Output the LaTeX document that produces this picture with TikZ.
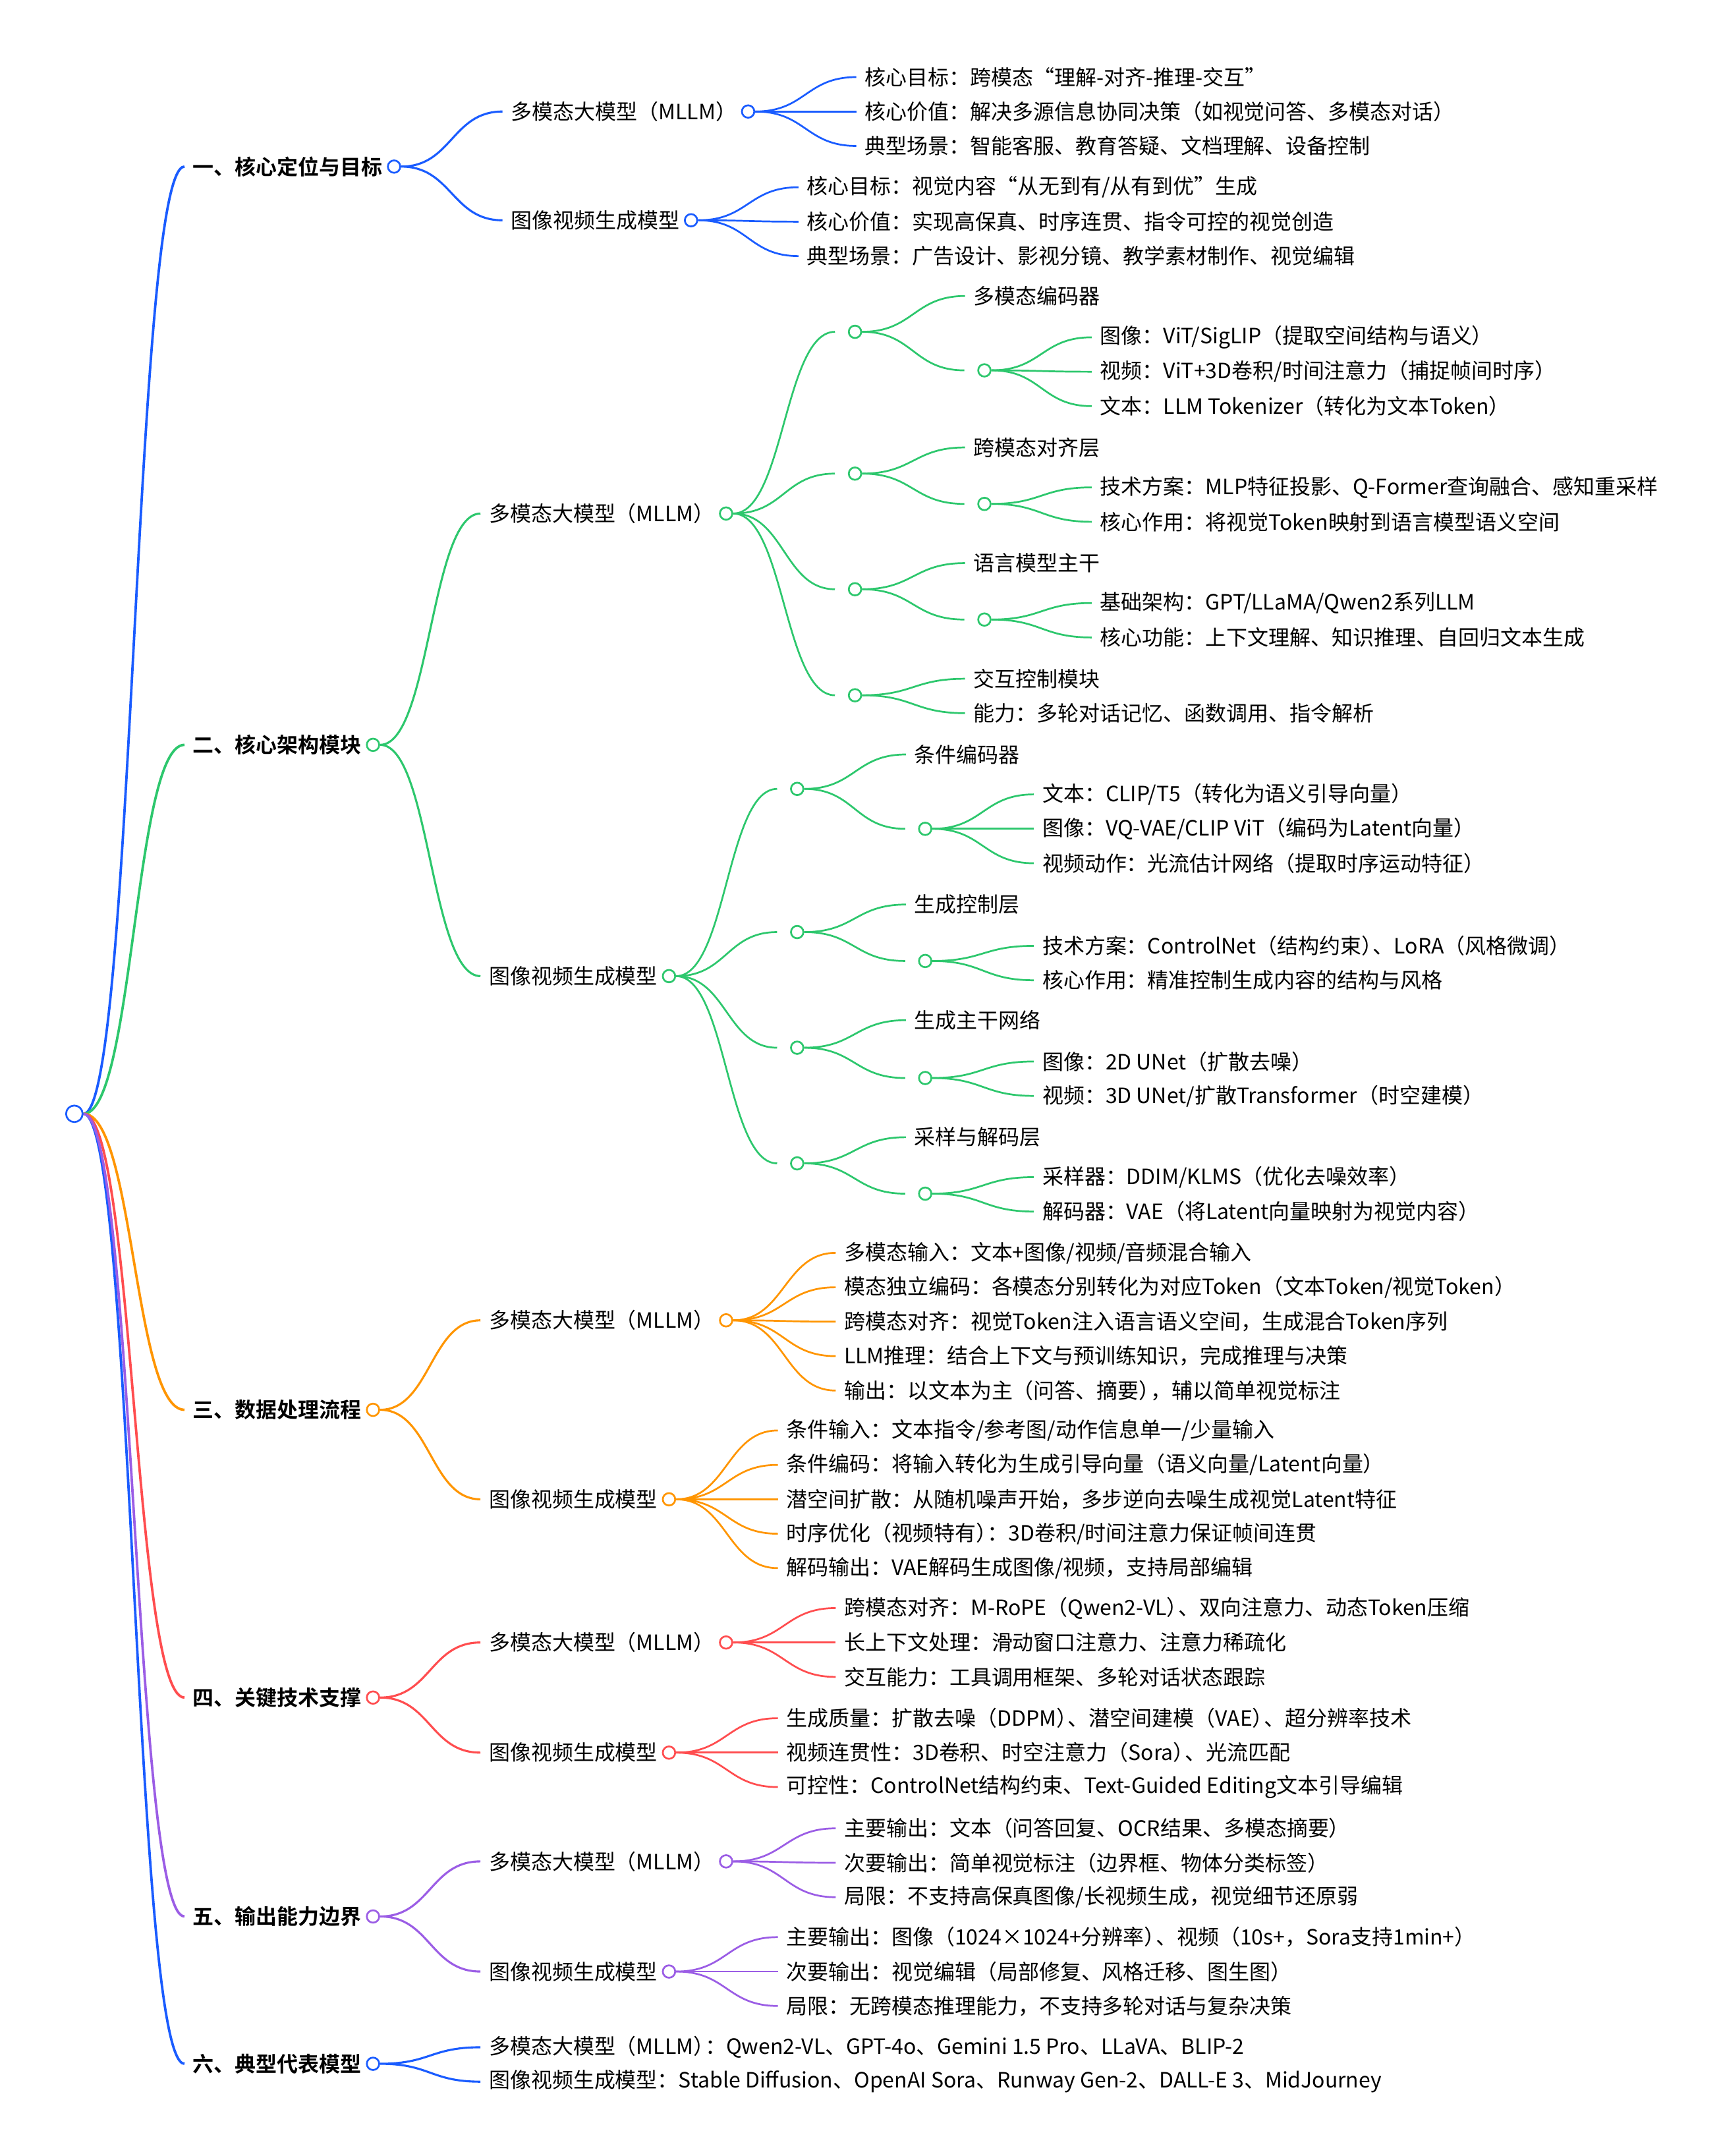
\documentclass[tikz,border=0pt]{standalone}
\usepackage{fontspec}
\setmainfont{Noto Sans CJK SC}[BoldFont={Noto Sans CJK SC Bold}]
\usetikzlibrary{positioning,calc,backgrounds}

\definecolor{mblue}{HTML}{1A5CFF}
\definecolor{mgreen}{HTML}{2DC76D}
\definecolor{morange}{HTML}{FF9500}
\definecolor{mred}{HTML}{FF4D4F}
\definecolor{mpurple}{HTML}{9B5DE5}
\newcommand{\jt}{\kern-0.45em}

\tikzset{
txt/.style={anchor=west, inner xsep=6pt, inner ysep=2pt, font=\fontsize{15.3}{18}\selectfont},
sect/.style={txt, font=\fontsize{15.3}{18}\selectfont\bfseries},
dot/.style={circle, draw=#1, fill=white, line width=1.3pt, minimum size=9pt, inner sep=0pt},
link/.style={to path={.. controls ($(\tikztostart)!0.5!(\tikztotarget|-\tikztostart)$) and ($(\tikztotarget)!0.5!(\tikztostart|-\tikztotarget)$) .. (\tikztotarget)}}
}

\begin{document}
\begin{tikzpicture}[x=1pt, y=-1pt, node distance=-3pt]
\useasboundingbox (0,0) rectangle (1250,1566);
\node[dot=mblue, minimum size=12pt] (r) at (54,809) {};

% sections
\node[sect] (s1) at (134,121) {一、核心定位与目标};
\node[dot=mblue, right=of s1] (s1d) {};
\node[sect] (s2) at (134,541) {二、核心架构模块};
\node[dot=mgreen, right=of s2] (s2d) {};
\node[sect] (s3) at (134,1024) {三、数据处理流程};
\node[dot=morange, right=of s3] (s3d) {};
\node[sect] (s4) at (134,1233) {四、关键技术支撑};
\node[dot=mred, right=of s4] (s4d) {};
\node[sect] (s5) at (134,1392) {五、输出能力边界};
\node[dot=mpurple, right=of s5] (s5d) {};
\node[sect] (s6) at (134,1499) {六、典型代表模型};
\node[dot=mblue, right=of s6] (s6d) {};

% 一
\node[txt] (s1a) at (365,81) {多模态大模型（MLLM）};
\node[dot=mblue, right=of s1a] (s1ad) {};
\node[txt] (s1a1) at (622,56) {核心目标：跨模态“理解-对齐-推理-交互”};
\node[txt] (s1a2) at (622,81) {核心价值：解决多源信息协同决策（如视觉问答、多模态对话）};
\node[txt] (s1a3) at (622,106) {典型场景：智能客服、教育答疑、文档理解、设备控制};
\node[txt] (s1b) at (365,160) {图像视频生成模型};
\node[dot=mblue, right=of s1b] (s1bd) {};
\node[txt] (s1b1) at (580,136) {核心目标：视觉内容“从无到有/从有到优”生成};
\node[txt] (s1b2) at (580,161) {核心价值：实现高保真、时序连贯、指令可控的视觉创造};
\node[txt] (s1b3) at (580,186) {典型场景：广告设计、影视分镜、教学素材制作、视觉编辑};

% 二 MLLM
\node[txt] (s2a) at (349,373) {多模态大模型（MLLM）};
\node[dot=mgreen, right=of s2a] (s2ad) {};
\node[txt] (s2a1) at (606.5,241) {};
\node[dot=mgreen, right=of s2a1] (s2a1d) {};
\node[txt] (s2a1x) at (701,215) {多模态编码器};
\node[txt] (s2a1y) at (700.5,269) {};
\node[dot=mgreen, right=of s2a1y] (s2a1yd) {};
\node[txt] (s2a1y1) at (793,245) {图像：ViT/SigLIP（提取空间结构与语义）};
\node[txt] (s2a1y2) at (793,270) {视频：ViT+3D卷积/时间注意力（捕捉帧间时序）};
\node[txt] (s2a1y3) at (793,295) {文本：LLM Tokenizer（转化为文本Token）};
\node[txt] (s2a2) at (606.5,344) {};
\node[dot=mgreen, right=of s2a2] (s2a2d) {};
\node[txt] (s2a2x) at (701,325) {跨模态对齐层};
\node[txt] (s2a2y) at (700.5,366) {};
\node[dot=mgreen, right=of s2a2y] (s2a2yd) {};
\node[txt] (s2a2y1) at (793,354) {技术方案：MLP特征投影、Q-Former查询融合、感知重采样};
\node[txt] (s2a2y2) at (793,379) {核心作用：将视觉Token映射到语言模型语义空间};
\node[txt] (s2a3) at (606.5,428) {};
\node[dot=mgreen, right=of s2a3] (s2a3d) {};
\node[txt] (s2a3x) at (701,409) {语言模型主干};
\node[txt] (s2a3y) at (700.5,450) {};
\node[dot=mgreen, right=of s2a3y] (s2a3yd) {};
\node[txt] (s2a3y1) at (793,438) {基础架构：GPT/LLaMA/Qwen2系列LLM};
\node[txt] (s2a3y2) at (793,463) {核心功能：上下文理解、知识推理、自回归文本生成};
\node[txt] (s2a4) at (606.5,505) {};
\node[dot=mgreen, right=of s2a4] (s2a4d) {};
\node[txt] (s2a4x) at (701,493) {交互控制模块};
\node[txt] (s2a4z) at (701,518) {能力：多轮对话记忆、函数调用、指令解析};

% 二 生成
\node[txt] (s2b) at (349,709) {图像视频生成模型};
\node[dot=mgreen, right=of s2b] (s2bd) {};
\node[txt] (s2b1) at (564.5,573) {};
\node[dot=mgreen, right=of s2b1] (s2b1d) {};
\node[txt] (s2b1x) at (658,548) {条件编码器};
\node[txt] (s2b1y) at (657.5,602) {};
\node[dot=mgreen, right=of s2b1y] (s2b1yd) {};
\node[txt] (s2b1y1) at (751,577) {文本：CLIP/T5（转化为语义引导向量）};
\node[txt] (s2b1y2) at (751,602) {图像：VQ-VAE/CLIP ViT（编码为Latent向量）};
\node[txt] (s2b1y3) at (751,627) {视频动作：光流估计网络（提取时序运动特征）};
\node[txt] (s2b2) at (564.5,677) {};
\node[dot=mgreen, right=of s2b2] (s2b2d) {};
\node[txt] (s2b2x) at (658,657) {生成控制层};
\node[txt] (s2b2y) at (657.5,698) {};
\node[dot=mgreen, right=of s2b2y] (s2b2yd) {};
\node[txt] (s2b2y1) at (751,687) {技术方案：ControlNet（结构约束）\jt、LoRA（风格微调）};
\node[txt] (s2b2y2) at (751,712) {核心作用：精准控制生成内容的结构与风格};
\node[txt] (s2b3) at (564.5,761) {};
\node[dot=mgreen, right=of s2b3] (s2b3d) {};
\node[txt] (s2b3x) at (658,741) {生成主干网络};
\node[txt] (s2b3y) at (657.5,783) {};
\node[dot=mgreen, right=of s2b3y] (s2b3yd) {};
\node[txt] (s2b3y1) at (751,771) {图像：2D UNet（扩散去噪）};
\node[txt] (s2b3y2) at (751,796) {视频：3D UNet/扩散Transformer（时空建模）};
\node[txt] (s2b4) at (564.5,845) {};
\node[dot=mgreen, right=of s2b4] (s2b4d) {};
\node[txt] (s2b4x) at (658,826) {采样与解码层};
\node[txt] (s2b4y) at (657.5,867) {};
\node[dot=mgreen, right=of s2b4y] (s2b4yd) {};
\node[txt] (s2b4y1) at (751,855) {采样器：DDIM/KLMS（优化去噪效率）};
\node[txt] (s2b4y2) at (751,880) {解码器：VAE（将Latent向量映射为视觉内容）};

% 三
\node[txt] (s3a) at (349,959) {多模态大模型（MLLM）};
\node[dot=morange, right=of s3a] (s3ad) {};
\node[txt] (s3a1) at (607,910) {多模态输入：文本+图像/视频/音频混合输入};
\node[txt] (s3a2) at (607,935) {模态独立编码：各模态分别转化为对应Token（文本Token/视觉Token）};
\node[txt] (s3a3) at (607,960) {跨模态对齐：视觉Token注入语言语义空间，生成混合Token序列};
\node[txt] (s3a4) at (607,985) {LLM推理：结合上下文与预训练知识，完成推理与决策};
\node[txt] (s3a5) at (607,1010) {输出：以文本为主（问答、摘要）\jt，辅以简单视觉标注};
\node[txt] (s3b) at (349,1089) {图像视频生成模型};
\node[dot=morange, right=of s3b] (s3bd) {};
\node[txt] (s3b1) at (565,1039) {条件输入：文本指令/参考图/动作信息单一/少量输入};
\node[txt] (s3b2) at (565,1064) {条件编码：将输入转化为生成引导向量（语义向量/Latent向量）};
\node[txt] (s3b3) at (565,1089) {潜空间扩散：从随机噪声开始，多步逆向去噪生成视觉Latent特征};
\node[txt] (s3b4) at (565,1114) {时序优化（视频特有）\jt：3D卷积/时间注意力保证帧间连贯};
\node[txt] (s3b5) at (565,1139) {解码输出：VAE解码生成图像/视频，支持局部编辑};

% 四
\node[txt] (s4a) at (349,1193) {多模态大模型（MLLM）};
\node[dot=mred, right=of s4a] (s4ad) {};
\node[txt] (s4a1) at (607,1168) {跨模态对齐：M-RoPE（Qwen2-VL）\jt、双向注意力、动态Token压缩};
\node[txt] (s4a2) at (607,1193) {长上下文处理：滑动窗口注意力、注意力稀疏化};
\node[txt] (s4a3) at (607,1218) {交互能力：工具调用框架、多轮对话状态跟踪};
\node[txt] (s4b) at (349,1273) {图像视频生成模型};
\node[dot=mred, right=of s4b] (s4bd) {};
\node[txt] (s4b1) at (565,1248) {生成质量：扩散去噪（DDPM）\jt、潜空间建模（VAE）\jt、超分辨率技术};
\node[txt] (s4b2) at (565,1273) {视频连贯性：3D卷积、时空注意力（Sora）\jt、光流匹配};
\node[txt] (s4b3) at (565,1298) {可控性：ControlNet结构约束、Text-Guided Editing文本引导编辑};

% 五
\node[txt] (s5a) at (349,1352) {多模态大模型（MLLM）};
\node[dot=mpurple, right=of s5a] (s5ad) {};
\node[txt] (s5a1) at (607,1328) {主要输出：文本（问答回复、OCR结果、多模态摘要）};
\node[txt] (s5a2) at (607,1353) {次要输出：简单视觉标注（边界框、物体分类标签）};
\node[txt] (s5a3) at (607,1378) {局限：不支持高保真图像/长视频生成，视觉细节还原弱};
\node[txt] (s5b) at (349,1432) {图像视频生成模型};
\node[dot=mpurple, right=of s5b] (s5bd) {};
\node[txt] (s5b1) at (565,1407) {主要输出：图像（1024×1024+分辨率）\jt、视频（10s+，Sora支持1min+）};
\node[txt] (s5b2) at (565,1432) {次要输出：视觉编辑（局部修复、风格迁移、图生图）};
\node[txt] (s5b3) at (565,1457) {局限：无跨模态推理能力，不支持多轮对话与复杂决策};

% 六
\node[txt] (s6a) at (349,1487) {多模态大模型（MLLM）\jt：Qwen2-VL、GPT-4o、Gemini 1.5 Pro、LLaVA、BLIP-2};
\node[txt] (s6b) at (349,1512) {图像视频生成模型：Stable Diffusion、OpenAI Sora、Runway Gen-2、DALL-E 3、MidJourney};

% links
\begin{scope}[on background layer]
\draw[line width=1.8pt, mblue] (r.east) to[link] (s1.west) (r.east) to[link] (s6.west);
\draw[line width=1.8pt, mgreen] (r.east) to[link] (s2.west);
\draw[line width=1.8pt, morange] (r.east) to[link] (s3.west);
\draw[line width=1.8pt, mred] (r.east) to[link] (s4.west);
\draw[line width=1.8pt, mpurple] (r.east) to[link] (s5.west);

\begin{scope}[mblue, line width=1.5pt]
\draw (s1d.east) to[link] (s1a.west) (s1d.east) to[link] (s1b.west);
\draw (s6d.east) to[link] (s6a.west) (s6d.east) to[link] (s6b.west);
\foreach \i in {1,2,3} {
  \draw[line width=1.3pt] (s1ad.east) to[link] (s1a\i.west);
  \draw[line width=1.3pt] (s1bd.east) to[link] (s1b\i.west);
}
\end{scope}

\begin{scope}[mgreen, line width=1.3pt]
\draw[line width=1.5pt] (s2d.east) to[link] (s2a.west) (s2d.east) to[link] (s2b.west);
\foreach \g in {a,b} {
  \foreach \i in {1,2,3,4} {
    \draw (s2\g d.east) to[link] (s2\g\i.west);
    \draw (s2\g\i d.east) to[link] (s2\g\i x.west);
  }
  \foreach \i in {1,2,3} {
    \draw (s2\g\i d.east) to[link] (s2\g\i y.west);
    \draw (s2\g\i yd.east) to[link] (s2\g\i y1.west);
    \draw (s2\g\i yd.east) to[link] (s2\g\i y2.west);
  }
  \draw (s2\g1yd.east) to[link] (s2\g1y3.west);
}
\draw (s2b4d.east) to[link] (s2b4y.west);
\draw (s2b4yd.east) to[link] (s2b4y1.west) (s2b4yd.east) to[link] (s2b4y2.west);
\draw (s2a4d.east) to[link] (s2a4z.west);
\end{scope}

\begin{scope}[morange, line width=1.3pt]
\draw[line width=1.5pt] (s3d.east) to[link] (s3a.west) (s3d.east) to[link] (s3b.west);
\foreach \i in {1,...,5} {
  \draw (s3ad.east) to[link] (s3a\i.west);
  \draw (s3bd.east) to[link] (s3b\i.west);
}
\end{scope}

\begin{scope}[mred, line width=1.3pt]
\draw[line width=1.5pt] (s4d.east) to[link] (s4a.west) (s4d.east) to[link] (s4b.west);
\foreach \i in {1,2,3} {
  \draw (s4ad.east) to[link] (s4a\i.west);
  \draw (s4bd.east) to[link] (s4b\i.west);
}
\end{scope}

\begin{scope}[mpurple, line width=1.3pt]
\draw[line width=1.5pt] (s5d.east) to[link] (s5a.west) (s5d.east) to[link] (s5b.west);
\foreach \i in {1,2,3} {
  \draw (s5ad.east) to[link] (s5a\i.west);
  \draw (s5bd.east) to[link] (s5b\i.west);
}
\end{scope}
\end{scope}
\end{tikzpicture}
\end{document}
